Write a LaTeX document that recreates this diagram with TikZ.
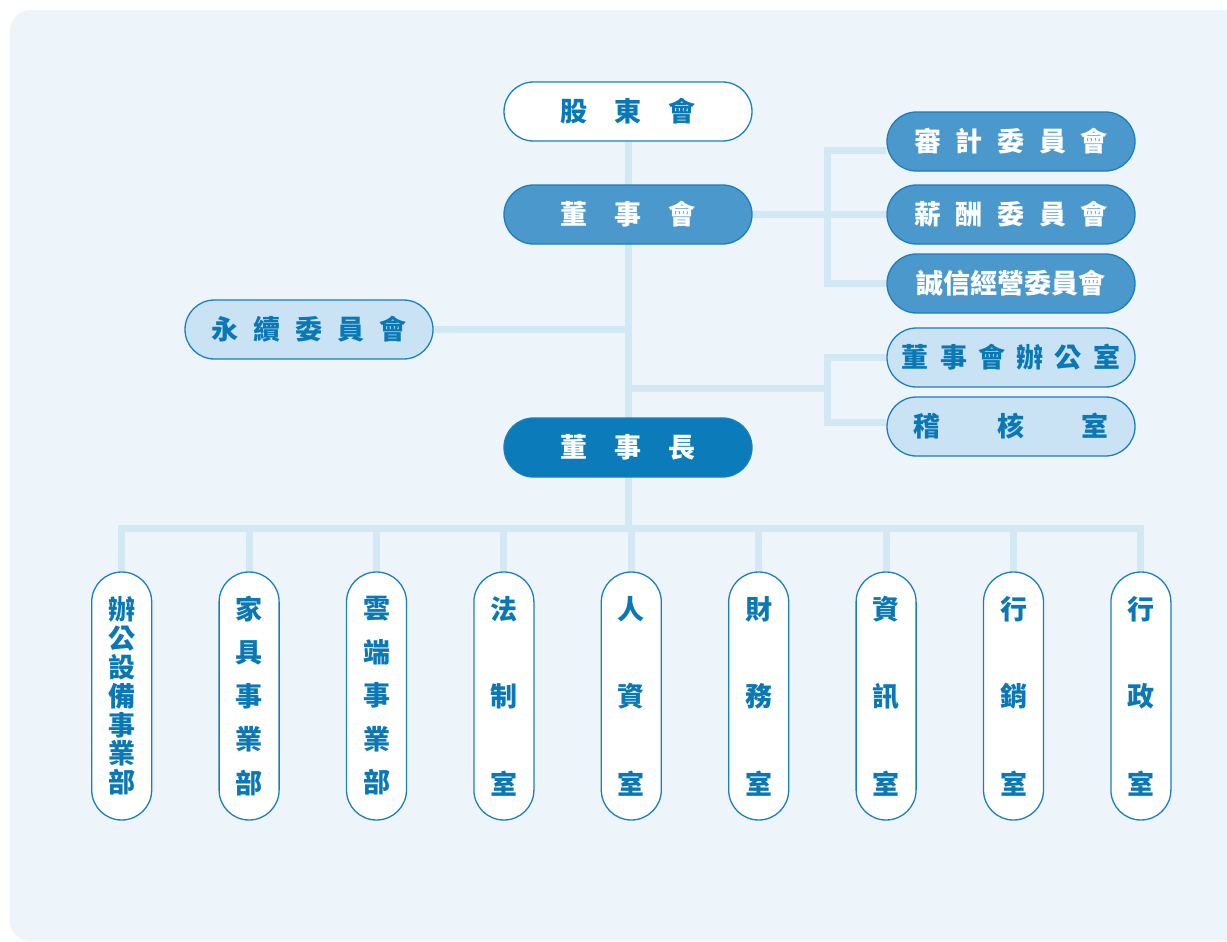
\documentclass[tikz,border=0pt]{standalone}
\usepackage{fontspec}
\newfontfamily\cjk{Noto Sans CJK TC}
\usetikzlibrary{calc}

\definecolor{panel}{HTML}{EDF5FB}
\definecolor{linkblue}{HTML}{D2E9F5}
\definecolor{edgeblue}{HTML}{1A7FBF}
\definecolor{deepblue}{HTML}{0B7BBA}
\definecolor{midblue}{HTML}{4A98CC}
\definecolor{paleblue}{HTML}{C9E3F4}
\definecolor{inkblue}{HTML}{0A78B5}

% letter-spaced text: \spread{gap}{characters}
\newcommand\spread[2]{\def\spreadgap{#1}\spreadfirst#2\relax}
\def\spreadfirst#1{#1\spreadnext}
\def\spreadnext#1{\ifx#1\relax\else\hspace{\spreadgap}#1\expandafter\spreadnext\fi}

\pgfdeclarelayer{backdrop}
\pgfdeclarelayer{links}
\pgfsetlayers{backdrop,links,main}

\begin{document}
\begin{tikzpicture}[x=1pt,y=-1pt,
  pill/.style={draw=edgeblue, line width=1.3pt, rounded corners=29.5pt,
    minimum width=248pt, minimum height=59pt, inner sep=0pt,
    font=\cjk\bfseries\fontsize{27}{30}\selectfont},
  whitebox/.style={pill, fill=white, text=inkblue},
  midbox/.style={pill, fill=midblue, text=white},
  palebox/.style={pill, fill=paleblue, text=inkblue},
  chairbox/.style={pill, fill=deepblue, text=white},
  column/.style={draw=edgeblue, line width=1.3pt, fill=white, rounded corners=30pt,
    minimum width=60pt, minimum height=248pt, inner sep=0pt, text=inkblue, align=center},
  tall3/.style={column, font=\cjk\bfseries\fontsize{27}{87.5}\selectfont},
  tall5/.style={column, font=\cjk\bfseries\fontsize{27}{43.5}\selectfont},
  tall7/.style={column, font=\cjk\bfseries\fontsize{27}{28.8}\selectfont},
  conn/.style={draw=linkblue, line width=7pt}]

\useasboundingbox (0,0) rectangle (1227,942);
\begin{pgfonlayer}{backdrop}
  \fill[panel, rounded corners=20pt] (10,10) rectangle (1290,941);
\end{pgfonlayer}

% governance boxes
\node[whitebox] (gdh) at (628,111.5) {\spread{27pt}{股東會}};
\node[midbox]   (dsh) at (628,214.5) {\spread{27pt}{董事會}};
\node[chairbox] (dsz) at (628,447.5) {\spread{27pt}{董事長}};
\node[midbox]   (aud) at (1011,141.5) {\spread{14.7pt}{審計委員會}};
\node[midbox]   (rem) at (1011,214.5) {\spread{14.7pt}{薪酬委員會}};
\node[midbox]   (itc) at (1011,283.5) {誠信經營委員會};
\node[palebox]  (bso) at (1011,357.5) {\spread{11.3pt}{董事會辦公室}};
\node[palebox]  (adt) at (1011,426.5) {\spread{57pt}{稽核室}};
\node[palebox]  (esg) at (309,329.5) {\spread{15pt}{永續委員會}};

% business units and offices
\node[tall7] (c1) at (121.7,696) {辦\\公\\設\\備\\事\\業\\部};
\node[tall5] (c2) at (249.1,696) {家\\具\\事\\業\\部};
\node[tall5] (c3) at (376.5,696) {雲\\端\\事\\業\\部};
\node[tall3] (c4) at (503.9,696) {法\\制\\室};
\node[tall3] (c5) at (631.3,696) {人\\資\\室};
\node[tall3] (c6) at (758.7,696) {財\\務\\室};
\node[tall3] (c7) at (886.1,696) {資\\訊\\室};
\node[tall3] (c8) at (1013.5,696) {行\\銷\\室};
\node[tall3] (c9) at (1140.9,696) {行\\政\\室};

\coordinate (bus) at (0,528);
\coordinate (brk) at (827.5,0);
\coordinate (j2) at (628,388);
\coordinate (audin) at ([yshift=-9pt]aud.west);
\coordinate (adtin) at ([yshift=4pt]adt.west);

\begin{pgfonlayer}{links}
  % main trunk and bottom bus
  \draw[conn] (gdh.south) -- (gdh.south |- bus);
  \draw[conn, line cap=rect] (c1.north |- bus) -- (c9.north |- bus);
  \foreach \i in {1,...,9} \draw[conn] (c\i.north) -- (c\i.north |- bus);
  % board committees
  \draw[conn] (dsh.east) -- (rem.west);
  \draw[conn] (audin) -| (brk |- itc.west) -- (itc.west);
  % sustainability committee
  \draw[conn] (esg.east) -- (esg.east -| gdh.south);
  % board office and audit
  \draw[conn] (j2) -- (j2 -| brk);
  \draw[conn] (bso.west) -| (brk |- adtin) -- (adtin);
\end{pgfonlayer}
\end{tikzpicture}
\end{document}
